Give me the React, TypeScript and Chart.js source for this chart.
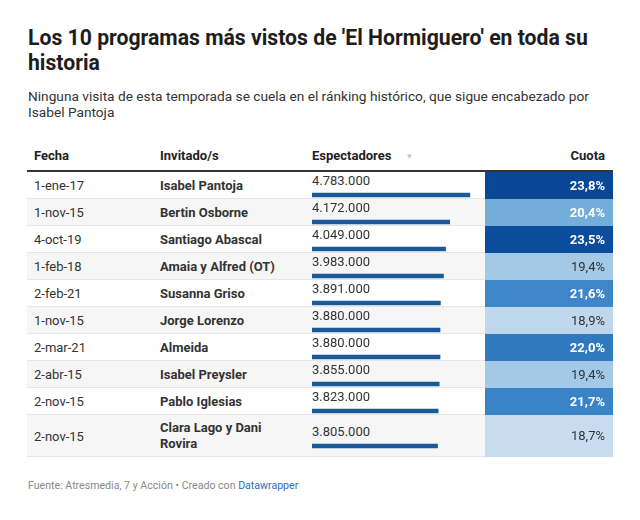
import React, { useEffect, useRef } from "react";
import { Chart, registerables } from "chart.js";

Chart.register(...registerables);

// ---- data ----
const fechas = ["1-ene-17", "1-nov-15", "4-oct-19", "1-feb-18", "2-feb-21", "1-nov-15", "2-mar-21", "2-abr-15", "2-nov-15", "2-nov-15"];
const invitados = ["Isabel Pantoja", "Bertin Osborne", "Santiago Abascal", "Amaia y Alfred (OT)", "Susanna Griso", "Jorge Lorenzo", "Almeida", "Isabel Preysler", "Pablo Iglesias", "Clara Lago y Dani Rovira"];
const espectadores = [4783000, 4172000, 4049000, 3983000, 3891000, 3880000, 3880000, 3855000, 3823000, 3805000];
const cuotas = [23.8, 20.4, 23.5, 19.4, 21.6, 18.9, 22.0, 19.4, 21.7, 18.7];
const columnas = ["Fecha", "Invitado/s", "Espectadores", "Cuota"];
const espMax = 5000000;

const FONT = "Roboto, 'Noto Sans', Arial, sans-serif";

const fmtNum = (n: number) => String(n).replace(/\B(?=(\d{3})+(?!\d))/g, ".");
const fmtPct = (v: number) => v.toFixed(1).replace(".", ",") + "%";

const cMin = Math.min(...cuotas);
const cMax = Math.max(...cuotas);
const stops: [number, number[]][] = [
  [0, [200, 220, 239]],
  [0.3, [122, 178, 219]],
  [0.6, [55, 129, 198]],
  [0.85, [15, 85, 163]],
  [1, [10, 71, 151]],
];
function tOf(v: number) {
  return (v - cMin) / (cMax - cMin);
}
function colorFor(v: number) {
  const t = tOf(v);
  for (let i = 1; i < stops.length; i++) {
    if (t <= stops[i][0]) {
      const [t0, c0] = stops[i - 1];
      const [t1, c1] = stops[i];
      const f = (t - t0) / (t1 - t0);
      const c = c0.map((a, k) => Math.round(a + (c1[k] - a) * f));
      return `rgb(${c[0]},${c[1]},${c[2]})`;
    }
  }
  const c = stops[stops.length - 1][1];
  return `rgb(${c[0]},${c[1]},${c[2]})`;
}

function EspBar({ value }: { value: number }) {
  const ref = useRef<HTMLCanvasElement>(null);
  useEffect(() => {
    const chart = new Chart(ref.current!, {
      type: "bar",
      data: {
        labels: [""],
        datasets: [{ data: [value], backgroundColor: "#1b5a99", barThickness: 4, borderWidth: 0 }],
      },
      options: {
        indexAxis: "y",
        responsive: false,
        animation: false,
        devicePixelRatio: 1,
        layout: { padding: 0 },
        plugins: { legend: { display: false }, tooltip: { enabled: false } },
        scales: {
          x: { display: false, min: 0, max: espMax },
          y: { display: false },
        },
      },
    });
    return () => chart.destroy();
  }, [value]);
  return <canvas ref={ref} width={165} height={14} style={{ display: "block", width: 165, height: 14 }} />;
}

function CuotaCell({ value }: { value: number }) {
  const ref = useRef<HTMLCanvasElement>(null);
  useEffect(() => {
    const chart = new Chart(ref.current!, {
      type: "bar",
      data: {
        labels: [""],
        datasets: [
          {
            data: [[0, 1]] as any,
            backgroundColor: colorFor(value),
            barPercentage: 1,
            categoryPercentage: 1,
            borderWidth: 0,
          },
        ],
      },
      options: {
        indexAxis: "y",
        responsive: true,
        maintainAspectRatio: false,
        animation: false,
        devicePixelRatio: 1,
        layout: { padding: 0 },
        plugins: { legend: { display: false }, tooltip: { enabled: false } },
        scales: {
          x: { display: false, min: 0, max: 1 },
          y: { display: false },
        },
      },
    });
    return () => chart.destroy();
  }, [value]);
  const dark = tOf(value) > 0.25;
  return (
    <div style={{ position: "absolute", left: 0, top: 0, right: 0, bottom: 0 }}>
      <div style={{ position: "absolute", left: 0, top: 0, right: 0, bottom: 0 }}>
        <canvas ref={ref} />
      </div>
      <div
        style={{
          position: "absolute",
          right: 8,
          top: "50%",
          transform: "translateY(-50%)",
          color: dark ? "#ffffff" : "#333333",
          fontWeight: dark ? 700 : 400,
          fontSize: 13,
          lineHeight: "16px",
          zIndex: 2,
        }}
      >
        {fmtPct(value)}
      </div>
    </div>
  );
}

export default function App() {
  return (
    <div
      style={{
        position: "absolute",
        left: 0,
        top: 0,
        width: 640,
        height: 520,
        background: "#ffffff",
        fontFamily: FONT,
        color: "#333",
        overflow: "hidden",
      }}
    >
      <div
        style={{
          position: "absolute",
          left: 28,
          top: 25,
          width: 590,
          fontSize: 21.2,
          lineHeight: "25px",
          fontWeight: 700,
          color: "#1d1d1d",
        }}
      >
        Los 10 programas más vistos de 'El Hormiguero' en toda su historia
      </div>
      <div
        style={{
          position: "absolute",
          left: 28,
          top: 88,
          width: 585,
          fontSize: 13.7,
          lineHeight: "16px",
          color: "#333",
        }}
      >
        Ninguna visita de esta temporada se cuela en el ránking histórico, que sigue encabezado por Isabel Pantoja
      </div>

      <div style={{ position: "absolute", left: 27, top: 140, width: 586 }}>
        {/* header */}
        <div
          style={{
            display: "flex",
            height: 30,
            alignItems: "center",
            borderBottom: "2px solid #333",
            fontWeight: 700,
            fontSize: 13,
            color: "#222",
          }}
        >
          <div style={{ width: 126, paddingLeft: 7 }}>{columnas[0]}</div>
          <div style={{ width: 140 }}>{columnas[1]}</div>
          <div style={{ width: 173, paddingLeft: 12, display: "flex", alignItems: "center" }}>
            {columnas[2]}
            <span style={{ color: "#c8c8c8", fontSize: 8, marginLeft: 14, marginTop: 2 }}>▼</span>
          </div>
          <div style={{ width: 120, paddingRight: 8, textAlign: "right" }}>{columnas[3]}</div>
        </div>

        {fechas.map((f, i) => (
          <div
            key={i}
            style={{
              position: "relative",
              display: "flex",
              minHeight: 27,
              background: i % 2 === 1 ? "#f6f6f6" : "#ffffff",
              fontSize: 13,
            }}
          >
            <div style={{ width: 126, paddingLeft: 7, display: "flex", alignItems: "center" }}>{f}</div>
            <div
              style={{
                width: 140,
                padding: "5px 0",
                lineHeight: "16px",
                fontWeight: 700,
                display: "flex",
                alignItems: "center",
                color: "#333",
              }}
            >
              {invitados[i]}
            </div>
            <div style={{ position: "relative", width: 185 }}>
              <div style={{ position: "absolute", left: 12, top: "calc(50% - 11.5px)" }}>
                <div style={{ lineHeight: "14px", height: 14 }}>{fmtNum(espectadores[i])}</div>
                <EspBar value={espectadores[i]} />
              </div>
            </div>
            <div style={{ position: "relative", width: 128 }}>
              <CuotaCell value={cuotas[i]} />
            </div>
            <div
              style={{
                position: "absolute",
                left: 0,
                bottom: 0,
                width: 458,
                height: 1,
                background: "#e6e6e6",
              }}
            />
          </div>
        ))}
      </div>

      <div
        style={{
          position: "absolute",
          left: 28,
          top: 479,
          fontSize: 10.6,
          lineHeight: "14px",
          color: "#888",
        }}
      >
        Fuente: Atresmedia, 7 y Acción • Creado con <span style={{ color: "#2f6db3" }}>Datawrapper</span>
      </div>
    </div>
  );
}
